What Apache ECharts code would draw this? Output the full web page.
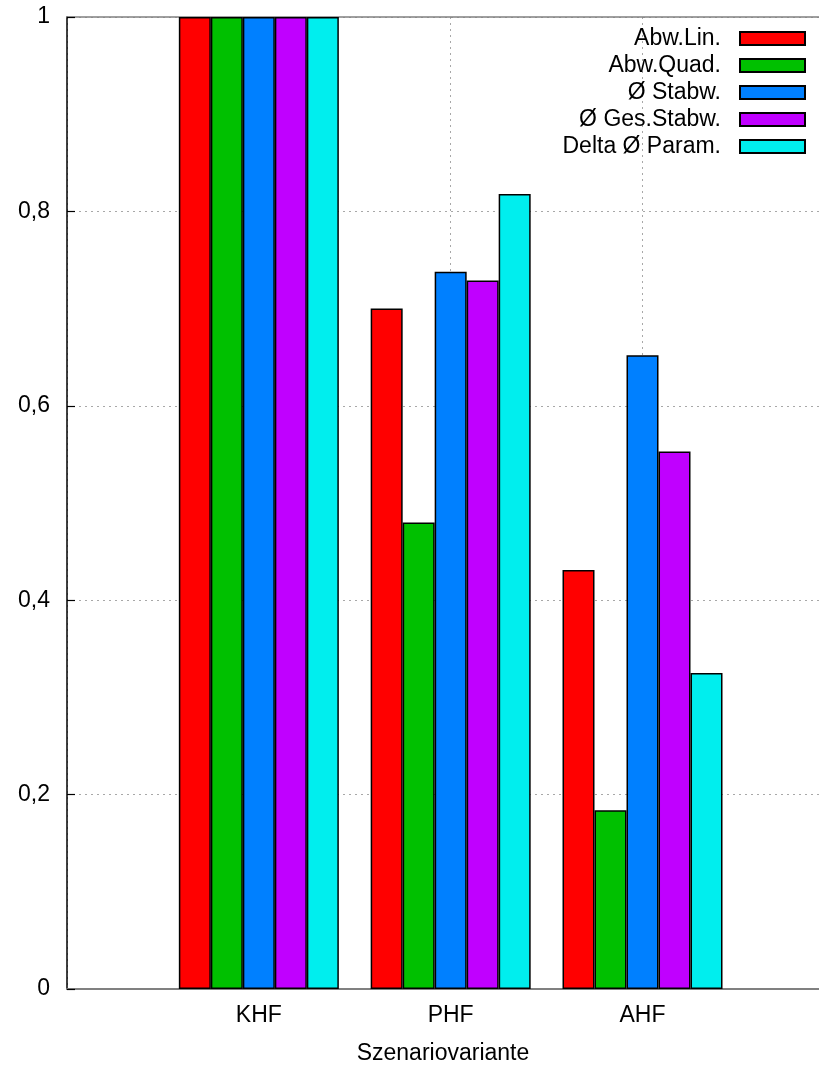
<!DOCTYPE html>
<html>
<head>
<meta charset="utf-8">
<title>Szenariovariante</title>
<script src="https://cdn.jsdelivr.net/npm/echarts@6/dist/echarts.min.js"></script>
<style>
  html, body { margin: 0; padding: 0; background: #ffffff; }
  #chart { width: 819px; height: 1065px; }
</style>
</head>
<body>
<div id="chart"></div>
<script>
// Scenario variants on the x axis
const categories = ['KHF', 'PHF', 'AHF'];

// Relative values per measure (normalised to KHF = 1)
const abwLin    = [1.0, 0.700, 0.431];
const abwQuad   = [1.0, 0.480, 0.184];
const stabw     = [1.0, 0.738, 0.652];
const gesStabw  = [1.0, 0.729, 0.553];
const deltaPar  = [1.0, 0.818, 0.325];

const seriesNames  = ['Abw.Lin.', 'Abw.Quad.', 'Ø Stabw.', 'Ø Ges.Stabw.', 'Delta Ø Param.'];
const seriesValues = [abwLin, abwQuad, stabw, gesStabw, deltaPar];
const seriesColors = ['#ff0000', '#00c000', '#0080ff', '#c000ff', '#00eeee'];

const yTicks = [0, 0.2, 0.4, 0.6, 0.8, 1];

// x range in category units: one empty slot before KHF, open on the right
const X_MIN = -1;
const X_MAX = 2.92;

const FONT = 'Liberation Sans, Arial, sans-serif';
const FS = 23;
const dotted = { color: '#a8a8a8', width: 1, type: [2, 4] };

const chart = echarts.init(document.getElementById('chart'), null, { renderer: 'canvas' });

chart.setOption({
  animation: false,
  backgroundColor: '#ffffff',
  textStyle: { fontFamily: FONT, color: '#000' },
  grid: {
    left: 67, top: 17, right: 0, bottom: 76,
    containLabel: false, outerBoundsMode: 'none'
  },
  legend: {
    orient: 'vertical',
    align: 'right',
    right: 13,
    top: 27,
    padding: 0,
    itemGap: 4,
    itemWidth: 65,
    itemHeight: 13,
    icon: 'rect',
    selectedMode: false,
    textStyle: {
      fontFamily: FONT, fontSize: FS, color: '#000',
      lineHeight: 23, padding: [0, 14, 0, 0]
    },
    data: seriesNames
  },
  xAxis: [
    {
      type: 'value',
      min: X_MIN,
      max: X_MAX,
      interval: 1,
      name: 'Szenariovariante',
      nameLocation: 'middle',
      nameGap: 53,
      nameTextStyle: { fontFamily: FONT, fontSize: FS, color: '#000' },
      axisLine: { show: true, onZero: false, lineStyle: { color: '#808080', width: 2 } },
      axisTick: { show: false },
      axisLabel: {
        fontFamily: FONT, fontSize: FS, color: '#000', margin: 15,
        showMaxLabel: false,
        formatter: v => (v >= 0 && Number.isInteger(v) && categories[v]) ? categories[v] : ''
      },
      splitLine: { show: true, lineStyle: dotted }
    },
    {
      // top frame line
      type: 'value',
      position: 'top',
      min: X_MIN,
      max: X_MAX,
      interval: 1,
      axisLine: { show: true, onZero: false, lineStyle: { color: '#808080', width: 1.5 } },
      axisTick: { show: false },
      axisLabel: { show: false },
      splitLine: { show: false }
    }
  ],
  yAxis: {
    type: 'value',
    min: yTicks[0],
    max: yTicks[yTicks.length - 1],
    interval: 0.2,
    axisLine: { show: true, onZero: false, lineStyle: { color: '#000', width: 1.5 } },
    axisTick: { show: true, inside: true, length: 8, lineStyle: { color: '#000', width: 1.2 } },
    axisLabel: {
      fontFamily: FONT, fontSize: FS, color: '#000', margin: 17,
      formatter: v => String(Math.round(v * 10) / 10).replace('.', ',')
    },
    splitLine: { show: true, lineStyle: dotted }
  },
  series: seriesNames.map((name, i) => ({
    name: name,
    type: 'bar',
    xAxisIndex: 0,
    barWidth: 32,
    barGap: '0%',
    data: seriesValues[i].map((v, k) => [k, v]),
    itemStyle: { color: seriesColors[i], borderColor: '#000', borderWidth: 1.5 },
    emphasis: { disabled: true }
  }))
});
</script>
</body>
</html>
